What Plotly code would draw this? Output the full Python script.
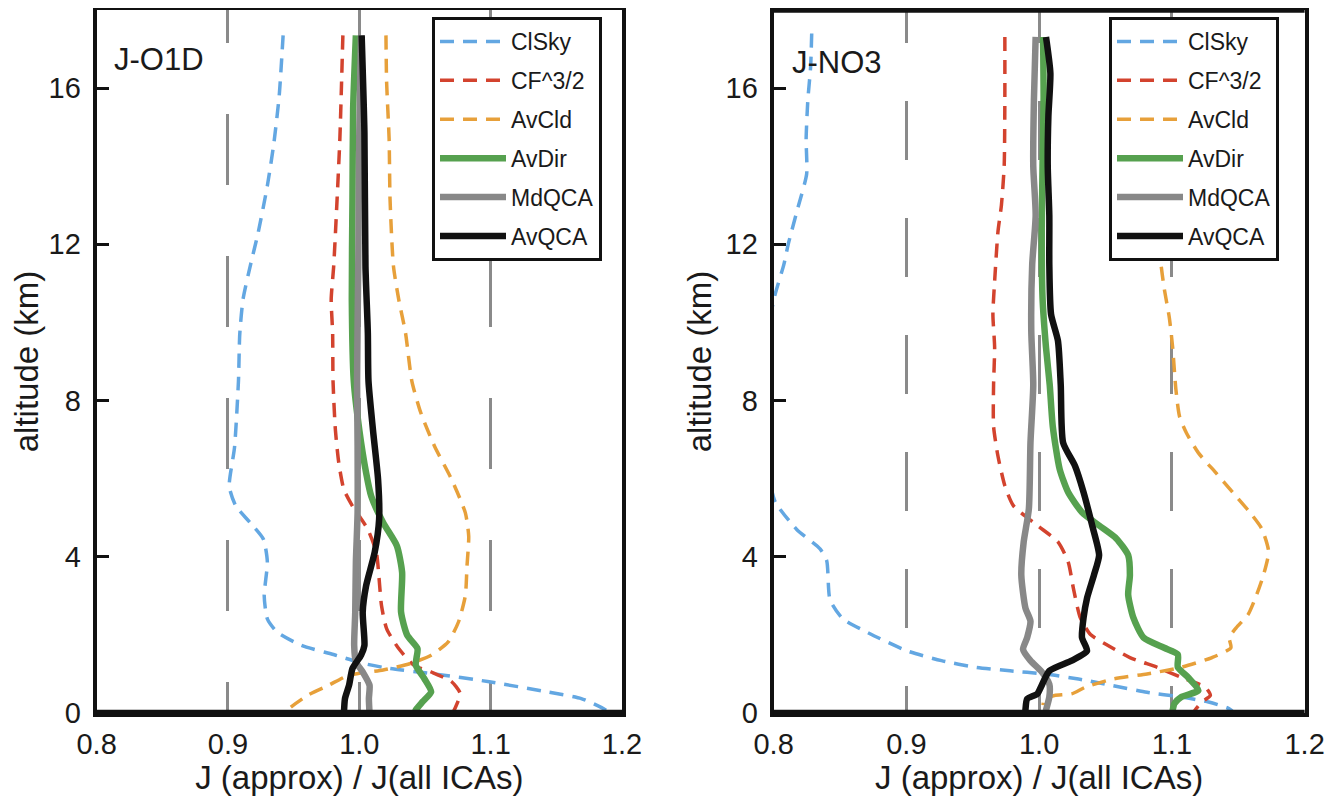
import plotly.graph_objects as go

# ---------------- data: J-O1D (left panel) ----------------
o1d_clsky_x = [0.942, 0.939, 0.935, 0.930, 0.923, 0.917, 0.9115, 0.909, 0.908, 0.905, 0.901, 0.906, 0.917, 0.927,
               0.930, 0.9276, 0.930, 0.9375, 0.956, 0.982, 1.003, 1.023, 1.055, 1.099, 1.143, 1.169, 1.1875, 1.19]
o1d_clsky_alt = [17.35, 15.8, 14.6, 13.5, 12.3, 11.45, 10.6, 9.7, 8.5, 6.8, 5.8, 5.3, 4.87, 4.45,
                 3.86, 3.0, 2.41, 2.07, 1.73, 1.48, 1.27, 1.14, 1.01, 0.80, 0.54, 0.37, 0.08, 0.0]

o1d_cf_x = [0.9875, 0.9865, 0.9852, 0.9831, 0.9805, 0.9786, 0.9797, 0.9800, 0.9818, 0.9844, 0.9883, 0.9948,
            1.0065, 1.013, 1.0151, 1.0169, 1.0208, 1.030, 1.0417, 1.0547, 1.0703, 1.0768, 1.0729, 1.071]
o1d_cf_alt = [17.35, 16.15, 14.7, 13.16, 11.44, 10.59, 9.73, 8.5, 7.25, 6.4, 5.72, 5.3,
              4.7, 4.11, 3.43, 2.75, 2.16, 1.65, 1.22, 1.05, 0.80, 0.50, 0.12, 0.0]

o1d_avcld_x = [1.0203, 1.0208, 1.0227, 1.0234, 1.026, 1.030, 1.0352, 1.040, 1.0469, 1.0573, 1.0703, 1.0807, 1.0833,
               1.082, 1.0807, 1.0755, 1.0677, 1.0547, 1.039, 1.0182, 0.9922, 0.9766, 0.961, 0.9453, 0.944]
o1d_avcld_alt = [17.35, 16.15, 14.7, 13.16, 11.44, 10.59, 9.73, 8.5, 7.68, 6.83, 5.98, 5.13, 4.53,
                 3.77, 3.0, 2.33, 1.82, 1.48, 1.27, 1.10, 0.97, 0.71, 0.46, 0.08, 0.0]

o1d_avdir_x = [0.9974, 0.9953, 0.9948, 0.9943, 0.9958, 1.0, 1.0052, 1.0091, 1.0182, 1.0286, 1.0326, 1.0318,
               1.0365, 1.0443, 1.043, 1.0495, 1.0547, 1.0482, 1.043, 1.042]
o1d_avdir_alt = [17.35, 15.47, 13.16, 10.59, 8.5, 7.25, 6.15, 5.55, 4.87, 4.28, 3.6, 2.58,
                 1.99, 1.65, 1.22, 0.88, 0.54, 0.29, 0.08, 0.0]

o1d_mdqca_x = [1.0013, 1.0, 0.9992, 0.9983, 0.9987, 0.9987, 0.9974, 0.9969, 0.9961, 0.9974, 1.0026, 1.0078,
               1.0073, 1.0078]
o1d_mdqca_alt = [17.35, 14.87, 11.44, 8.5, 6.83, 5.13, 3.86, 2.58, 1.73, 1.31, 1.05, 0.71, 0.37, 0.0]

o1d_avqca_x = [1.0018, 1.0039, 1.0047, 1.0065, 1.007, 1.0104, 1.0143, 1.0151, 1.0117, 1.0052, 1.0026, 1.0039,
               1.0013, 0.9948, 0.9922, 0.9891, 0.9883]
o1d_avqca_alt = [17.35, 14.87, 11.44, 9.73, 8.5, 7.25, 5.98, 4.96, 4.11, 3.26, 2.58, 1.73,
                 1.48, 1.14, 0.71, 0.37, 0.0]

# ---------------- data: J-NO3 (right panel) ----------------
no3_clsky_x = [0.8287, 0.8279, 0.8258, 0.8245, 0.8249, 0.818, 0.811, 0.8077, 0.801, 0.797, 0.797, 0.797,
               0.8013, 0.8174, 0.835, 0.840, 0.8425, 0.852, 0.8726, 0.9006, 0.9265, 0.9523, 0.9781,
               1.0039, 1.0297, 1.0555, 1.0813, 1.1071, 1.1277, 1.1432, 1.147]
no3_clsky_alt = [17.4, 16.55, 15.7, 14.69, 13.8, 12.9, 12.0, 11.48, 10.7, 10.0, 8.0, 6.0,
                 5.4, 4.7, 4.2, 3.9, 2.9, 2.42, 2.03, 1.59, 1.34, 1.17, 1.08,
                 1.0, 0.87, 0.70, 0.53, 0.41, 0.28, 0.11, 0.0]

no3_cf_x = [0.9742, 0.9742, 0.9737, 0.9716, 0.969, 0.9665, 0.9652, 0.9665, 0.9657, 0.9657, 0.969, 0.9742, 0.9806,
            0.9987, 1.0142, 1.0219, 1.0258, 1.031, 1.0387, 1.0503, 1.0684, 1.089, 1.1071, 1.1252, 1.129, 1.1226,
            1.1174, 1.116]
no3_cf_alt = [17.31, 15.70, 14.01, 13.0, 12.32, 11.05, 10.21, 9.36, 8.4, 7.34, 6.58, 5.82, 5.31,
              4.80, 4.38, 3.87, 3.2, 2.44, 2.01, 1.76, 1.42, 1.17, 0.91, 0.66, 0.45, 0.28,
              0.07, 0.0]

no3_avcld_x = [1.090, 1.089, 1.090, 1.0916, 1.0942, 1.0981, 1.1006, 1.103, 1.1058, 1.111, 1.12, 1.1329, 1.1458,
               1.1587, 1.1677, 1.1729, 1.169, 1.1639, 1.1574, 1.1484, 1.1432, 1.1445, 1.1303, 1.1071, 1.0813,
               1.0555, 1.0348, 1.0245, 1.0116, 1.0039, 1.003]
no3_avcld_alt = [17.31, 14.5, 12.5, 11.56, 10.88, 10.12, 9.36, 8.3, 7.59, 7.17, 6.66, 6.16, 5.65,
                 5.14, 4.72, 4.13, 3.53, 3.03, 2.52, 2.18, 1.93, 1.67, 1.42, 1.17, 1.0,
                 0.87, 0.66, 0.49, 0.45, 0.36, 0.2]

no3_avdir_x = [1.003, 1.0034, 1.0026, 1.002, 1.0026, 1.0052, 1.008, 1.0103, 1.0155, 1.0219, 1.0323, 1.0452,
               1.0581, 1.0671, 1.0684, 1.0671, 1.071, 1.0787, 1.0942, 1.1045, 1.1045, 1.1123, 1.12, 1.1071,
               1.1019, 1.1006, 1.1]
no3_avdir_alt = [17.31, 15.7, 14.01, 12.32, 10.63, 9.36, 8.4, 7.34, 6.24, 5.65, 5.14, 4.80,
                 4.47, 4.04, 3.53, 3.03, 2.44, 1.93, 1.67, 1.5, 1.17, 0.91, 0.58, 0.41,
                 0.24, 0.07, 0.0]

no3_mdqca_x = [0.9974, 0.9961, 0.9956, 0.9974, 0.9948, 0.9941, 0.9956, 0.9935, 0.9923, 0.9884, 0.9866, 0.9897,
               0.9935, 0.991, 0.9879, 0.9935, 1.0013, 1.0077, 1.0077, 1.0052, 1.005]
no3_mdqca_alt = [17.31, 15.70, 14.01, 12.74, 11.48, 9.78, 8.4, 6.92, 5.23, 4.38, 3.53, 2.69,
                 2.35, 1.93, 1.63, 1.34, 1.08, 0.74, 0.41, 0.07, 0.0]

no3_avqca_x = [1.0052, 1.0085, 1.007, 1.0065, 1.0077, 1.0077, 1.009, 1.0142, 1.0163, 1.0181, 1.027, 1.0335,
               1.04, 1.0452, 1.0413, 1.0361, 1.0335, 1.0323, 1.0361, 1.0245, 1.0077, 1.0013, 0.9987, 0.991,
               0.9897, 0.9895]
no3_avqca_alt = [17.31, 16.38, 15.28, 14.01, 12.74, 11.48, 10.21, 9.53, 8.4, 6.92, 6.33, 5.65,
                 4.80, 4.04, 3.53, 2.94, 2.44, 1.93, 1.59, 1.34, 1.08, 0.66, 0.49, 0.36,
                 0.07, 0.0]

series_names = ["ClSky", "CF^3/2", "AvCld", "AvDir", "MdQCA", "AvQCA"]
panel_labels = ["J-O1D", "J-NO3"]
x_ticks = [0.8, 0.9, 1.0, 1.1, 1.2]
y_ticks = [0, 4, 8, 12, 16]
x_title = "J (approx) / J(all ICAs)"
y_title = "altitude (km)"

colors = ["#63a7e2", "#d3432e", "#e7a03a", "#56a14f", "#888888", "#111111"]
widths = [3.5, 3.5, 3.5, 6.5, 6.5, 6.5]
dashes = ["14px,9px", "14px,9px", "14px,9px", "solid", "solid", "solid"]

left = [(o1d_clsky_x, o1d_clsky_alt), (o1d_cf_x, o1d_cf_alt), (o1d_avcld_x, o1d_avcld_alt),
        (o1d_avdir_x, o1d_avdir_alt), (o1d_mdqca_x, o1d_mdqca_alt), (o1d_avqca_x, o1d_avqca_alt)]
right = [(no3_clsky_x, no3_clsky_alt), (no3_cf_x, no3_cf_alt), (no3_avcld_x, no3_avcld_alt),
         (no3_avdir_x, no3_avdir_alt), (no3_mdqca_x, no3_mdqca_alt), (no3_avqca_x, no3_avqca_alt)]

FONT = "Liberation Sans, Arial, Helvetica, sans-serif"
OFF = 8                      # page body margin
W, H = 1335 - 2 * OFF, 804 - 2 * OFF

fig = go.Figure()
for panel, (data, xa, ya, leg, pre) in enumerate([(left, "x", "y", "legend", "L"),
                                                    (right, "x2", "y2", "legend2", "R")]):
    for i, (xs, ys) in enumerate(data):
        fig.add_trace(go.Scatter(
            x=xs, y=ys, mode="lines", name=series_names[i],
            xaxis=xa, yaxis=ya, legend=leg, legendgroup=pre + series_names[i],
            line=dict(color=colors[i], width=widths[i], dash=dashes[i], shape="spline", smoothing=0.6),
            hoverinfo="skip"))


def px_x(p):
    return (p - OFF) / W


def px_y(p):
    return 1 - (p - OFF) / H


ydom = [px_y(713), px_y(10)]
left_dom = [px_x(96.6), px_x(622)]
right_dom = [px_x(773.6), px_x(1304.6)]

grid_left = ",".join(["33px"] + ["71px"] * 13)
grid_right = ",".join(["33px"] + ["58px", "59px"] * 7 + ["58px"])

axis_common_x = dict(range=[0.8, 1.2], tickvals=x_ticks, tickformat=".1f", showline=True, mirror=True,
                     linecolor="#111111", linewidth=4, ticks="", showgrid=True, gridcolor="#8a8a8a",
                     gridwidth=2.7, zeroline=False, fixedrange=True, automargin=False, ticklabelstandoff=2,
                     tickfont=dict(family=FONT, size=29, color="#1a1a1a"),
                     title=dict(text=x_title, font=dict(family=FONT, size=33, color="#1a1a1a"), standoff=11))
axis_common_y = dict(range=[0, 18], tickvals=y_ticks, showline=True, mirror=True, linecolor="#111111",
                     linewidth=4, ticks="inside", ticklen=12, tickwidth=3, tickcolor="#111111",
                     showgrid=False, zeroline=False, fixedrange=True, automargin=False, ticklabelstandoff=6,
                     tickfont=dict(family=FONT, size=29, color="#1a1a1a"),
                     title=dict(text=y_title, font=dict(family=FONT, size=33, color="#1a1a1a"), standoff=5))

legend_common = dict(xanchor="left", yanchor="top", bgcolor="white", bordercolor="#111111", borderwidth=3,
                     font=dict(family=FONT, size=23, color="#1a1a1a"), itemwidth=66, tracegroupgap=6,
                     itemclick=False, itemdoubleclick=False)

fig.update_layout(
    width=W, height=H, margin=dict(l=0, r=0, t=0, b=0, autoexpand=False),
    paper_bgcolor="white", plot_bgcolor="white",
    font=dict(family=FONT, color="#1a1a1a"),
    xaxis=dict(domain=left_dom, anchor="y", griddash=grid_left, **axis_common_x),
    yaxis=dict(domain=ydom, anchor="x", **axis_common_y),
    xaxis2=dict(domain=right_dom, anchor="y2", griddash=grid_right, **axis_common_x),
    yaxis2=dict(domain=ydom, anchor="x2", **axis_common_y),
    legend=dict(x=px_x(432), y=px_y(17), **legend_common),
    legend2=dict(x=px_x(1109), y=px_y(17), **legend_common),
    showlegend=True,
)

# heavier frame edges (bottom of both panels, top of right panel)
for xr, yr, yv, wv in [("x domain", "y domain", 0, 6.5), ("x2 domain", "y2 domain", 0, 6.5),
                       ("x2 domain", "y2 domain", 1, 5.5)]:
    fig.add_shape(type="line", xref=xr, yref=yr, x0=0, x1=1, y0=yv, y1=yv,
                  line=dict(color="#111111", width=wv), layer="above")

fig.add_annotation(text=panel_labels[0], xref="paper", yref="paper", x=px_x(112), y=px_y(60),
                   xanchor="left", yanchor="middle", showarrow=False,
                   font=dict(family=FONT, size=31, color="#1a1a1a"))
fig.add_annotation(text=panel_labels[1], xref="paper", yref="paper", x=px_x(790), y=px_y(63),
                   xanchor="left", yanchor="middle", showarrow=False,
                   font=dict(family=FONT, size=31, color="#1a1a1a"))

fig.write_html("out.html")
